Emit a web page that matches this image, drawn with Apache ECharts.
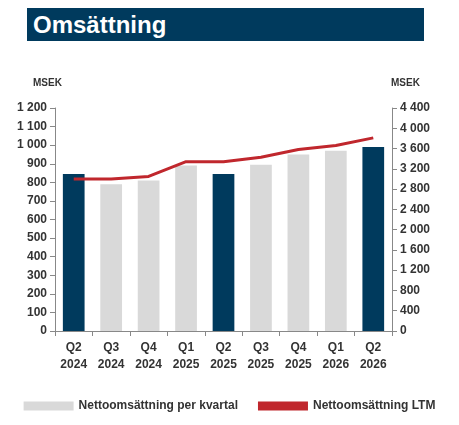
<!DOCTYPE html><html><head><meta charset="utf-8"><script src="https://cdn.jsdelivr.net/npm/echarts@6/dist/echarts.min.js"></script>
<style>body{margin:0}#t{position:absolute;left:27px;top:8px;width:397px;height:33px;background:#003a5d;color:#fff;font:bold 24px Arial,"Liberation Sans";line-height:34px;padding-left:6px;box-sizing:border-box}#c{width:459px;height:425px}</style></head><body>
<div id="t">Omsättning</div><div id="c"></div>
<script>
const categories=["Q2\n2024","Q3\n2024","Q4\n2024","Q1\n2025","Q2\n2025","Q3\n2025","Q4\n2025","Q1\n2026","Q2\n2026"];
const quarterly=[845,790,810,890,845,895,950,970,990];
const ltm=[3000,3000,3050,3340,3340,3430,3580,3660,3810];
const highlight=[0,4,8];
const c=echarts.init(document.getElementById('c'));
const lab={color:'#333',fontWeight:'bold',fontSize:12,fontFamily:'Arial'};
c.setOption({animation:false,
grid:{left:55,right:67,top:108,bottom:94},
graphic:[{type:'text',left:33,top:78,style:{text:'MSEK',font:'bold 10px Arial',fill:'#333'}},{type:'text',left:391,top:78,style:{text:'MSEK',font:'bold 10px Arial',fill:'#333'}}],
legend:{bottom:8,left:'center',itemGap:20,textStyle:lab,data:[{name:'Nettoomsättning per kvartal',icon:'rect',itemStyle:{color:'#d9d9d9'}},{name:'Nettoomsättning LTM',icon:'rect'}],itemWidth:50,itemHeight:9},
xAxis:{type:'category',data:categories,axisTick:{show:true,alignWithLabel:false,lineStyle:{color:'#888'}},axisLine:{lineStyle:{color:'#888'}},axisLabel:{...lab,lineHeight:17}},
yAxis:[{type:'value',min:0,max:1200,interval:100,splitLine:{show:false},axisLine:{show:true,lineStyle:{color:'#888'}},axisTick:{show:true},axisLabel:{...lab,formatter:v=>String(v).replace(/\B(?=(\d{3})+$)/g,' ')}},
{type:'value',min:0,max:4400,interval:400,splitLine:{show:false},axisLine:{show:true,lineStyle:{color:'#888'}},axisTick:{show:true},axisLabel:{...lab,formatter:v=>String(v).replace(/\B(?=(\d{3})+$)/g,' ')}}],
series:[{name:'Nettoomsättning per kvartal',type:'bar',barWidth:'58%',data:quarterly.map((v,i)=>({value:v,itemStyle:{color:highlight.includes(i)?'#003a5d':'#d9d9d9'}})),itemStyle:{color:'#d9d9d9'}},
{name:'Nettoomsättning LTM',type:'line',yAxisIndex:1,data:ltm,symbol:'none',lineStyle:{color:'#c0272d',width:3},itemStyle:{color:'#c0272d'}}]});
</script></body></html>
